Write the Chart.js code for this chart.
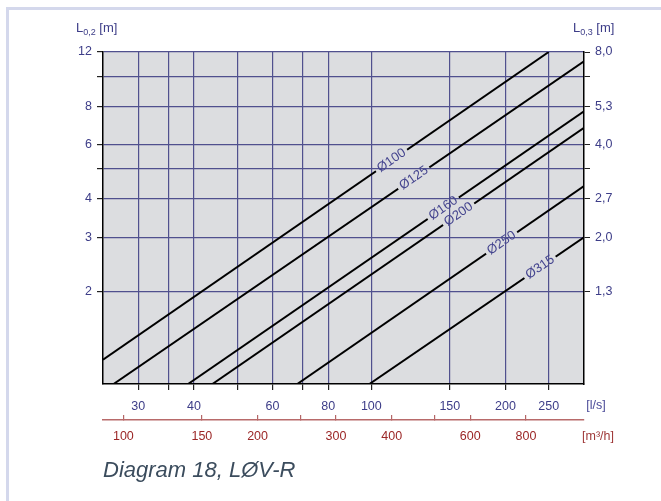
<!DOCTYPE html>
<html>
<head>
<meta charset="utf-8">
<script src="https://cdn.jsdelivr.net/npm/chart.js@4.4.1/dist/chart.umd.min.js"></script>
<style>
  html, body { margin: 0; padding: 0; background: #fff; }
  #wrap { position: relative; width: 661px; height: 501px; overflow: hidden; font-family: "Liberation Sans", Arial, sans-serif; }
  #frame { position: absolute; left: 6px; top: 7px; width: 700px; height: 600px; border-top: 3px solid #d4d8ec; border-left: 3px solid #d4d8ec; }
  #chartBox { position: absolute; left: 0; top: 0; width: 661px; height: 501px; }
  .ytitle { position: absolute; top: 20px; font-size: 13px; color: #3d3d88; white-space: nowrap; }
  .ytitle sub { font-size: 9px; vertical-align: -3px; }
  #caption { position: absolute; left: 103px; top: 459px; font-size: 22px; line-height: 22px; font-style: italic; color: #3b4c5d; white-space: nowrap; }
</style>
</head>
<body>
<div id="wrap">
  <div id="frame"></div>
  <div id="chartBox"><canvas id="myChart"></canvas></div>
  <div class="ytitle" style="left:76px">L<sub>0,2</sub> [m]</div>
  <div class="ytitle" style="left:573px">L<sub>0,3</sub> [m]</div>
  <div id="caption">Diagram 18, LØV-R</div>
</div>
<script>
// air flow [l/s] axis
const flowTicks = [30, 35, 40, 50, 60, 70, 80, 100, 150, 200, 250];
const flowLabels = ["30", "", "40", "", "60", "", "80", "100", "150", "200", "250"];
// air flow [m3/h] axis
const m3hTicks = [100, 150, 200, 250, 300, 400, 500, 600, 800];
const m3hLabels = ["100", "150", "200", "", "300", "400", "", "600", "800"];
// throw length axes
const lenTicks = [2, 3, 4, 5, 6, 8, 10, 12];
const lenLabelsLeft = ["2", "3", "4", "", "6", "8", "", "12"];
const lenLabelsRight = ["1,3", "2,0", "2,7", "", "4,0", "5,3", "", "8,0"];

// one straight line per duct size (start / end)
const sizes = ["Ø100", "Ø125", "Ø160", "Ø200", "Ø250", "Ø315"];
const flowStart = [25, 26.4, 38.8, 44, 68.2, 99];
const flowEnd = [250, 300, 300, 300, 300, 300];
const lenStart = [1.2, 1, 1, 1, 1, 1];
const lenEnd = [12, 11.2, 7.7, 6.8, 4.4, 3.0];
const labelFlow = [111, 124.5, 145, 157, 196, 239];

const plotBg = "#dcdde0";
const gridBlue = "#50508e";
const tickBlue = "#3d3d88";
const red = "#9b2626";
const font = { family: '"Liberation Sans", Arial, sans-serif', size: 12.5 };

function labelBoxes(chart) {
  const xs = chart.scales.x;
  const ys = chart.scales.y;
  const ctx = chart.ctx;
  ctx.save();
  ctx.font = '13px "Liberation Sans", Arial, sans-serif';
  const out = sizes.map(function (name, i) {
    const x0 = xs.getPixelForValue(flowStart[i]);
    const y0 = ys.getPixelForValue(lenStart[i]);
    const x1 = xs.getPixelForValue(flowEnd[i]);
    const y1 = ys.getPixelForValue(lenEnd[i]);
    const px = xs.getPixelForValue(labelFlow[i]);
    const t = (px - x0) / (x1 - x0);
    const py = y0 + t * (y1 - y0);
    const ang = Math.atan2(y1 - y0, x1 - x0);
    const w = ctx.measureText(name).width;
    return { name: name, x: px, y: py, ang: ang, w: w };
  });
  ctx.restore();
  return out;
}

const areaBg = {
  id: "areaBg",
  beforeDraw(chart) {
    const a = chart.chartArea;
    const ctx = chart.ctx;
    ctx.save();
    ctx.fillStyle = plotBg;
    ctx.fillRect(a.left, a.top, a.width, a.height);
    ctx.restore();
  }
};

// cut a gap into each line where its label sits, then write the label
const lineLabels = {
  id: "lineLabels",
  beforeDatasetsDraw(chart) {
    const ctx = chart.ctx;
    const boxes = labelBoxes(chart);
    ctx.save();
    ctx.beginPath();
    ctx.rect(0, 0, chart.width, chart.height);
    boxes.forEach(function (b) {
      const hw = b.w / 2 + 3, hh = 6;
      const c = Math.cos(b.ang), s = Math.sin(b.ang);
      const pts = [[-hw, -hh], [hw, -hh], [hw, hh], [-hw, hh]].map(function (p) {
        return [b.x + p[0] * c - p[1] * s, b.y + p[0] * s + p[1] * c];
      });
      ctx.moveTo(pts[0][0], pts[0][1]);
      for (let k = 1; k < 4; k++) ctx.lineTo(pts[k][0], pts[k][1]);
      ctx.closePath();
    });
    ctx.clip("evenodd");
  },
  afterDatasetsDraw(chart) {
    const ctx = chart.ctx;
    ctx.restore();
    const boxes = labelBoxes(chart);
    boxes.forEach(function (b) {
      ctx.save();
      ctx.translate(b.x, b.y);
      ctx.rotate(b.ang);
      ctx.font = '13px "Liberation Sans", Arial, sans-serif';
      ctx.fillStyle = "#45458f";
      ctx.textAlign = "center";
      ctx.textBaseline = "middle";
      ctx.fillText(b.name, 0, 0);
      ctx.restore();
    });
  }
};

const unitLabels = {
  id: "unitLabels",
  afterDraw(chart) {
    const ctx = chart.ctx;
    const a = chart.chartArea;
    ctx.save();
    ctx.font = '12.5px "Liberation Sans", Arial, sans-serif';
    ctx.textAlign = "center";
    ctx.textBaseline = "middle";
    ctx.fillStyle = "#4a4a98";
    ctx.fillText("[l/s]", a.right + 12, chart.scales.x.top + 22);
    ctx.fillStyle = "#a03a3a";
    ctx.fillText("[m³/h]", a.right + 14, chart.scales.x2.top + 17);
    ctx.restore();
  }
};

function createChart() {
  const datasets = sizes.map(function (name, i) {
    return {
      label: name,
      data: [
        { x: flowStart[i], y: lenStart[i] },
        { x: flowEnd[i], y: lenEnd[i] }
      ],
      showLine: true,
      borderColor: "#000",
      borderWidth: 2,
      pointRadius: 0,
      xAxisID: "x",
      yAxisID: "y"
    };
  });

  new Chart(document.getElementById("myChart"), {
    type: "scatter",
    data: { datasets: datasets },
    plugins: [areaBg, lineLabels, unitLabels],
    options: {
      responsive: true,
      maintainAspectRatio: false,
      animation: false,
      layout: { padding: { top: 52, left: 0, right: 0, bottom: 51 } },
      plugins: { legend: { display: false }, tooltip: { enabled: false } },
      scales: {
        x: {
          type: "logarithmic",
          position: "bottom",
          weight: 0,
          min: 25,
          max: 300,
          afterBuildTicks: function (s) { s.ticks = flowTicks.map(v => ({ value: v })); },
          afterFit: function (s) { s.height = 36; },
          ticks: {
            autoSkip: false, maxRotation: 0, padding: 9.5, color: tickBlue, font: font,
            callback: function (v, i) { return flowLabels[i]; }
          },
          grid: { color: gridBlue, lineWidth: 1.2, tickColor: "#222", tickLength: 6 },
          border: { color: "#000", width: 1.5 }
        },
        x2: {
          type: "logarithmic",
          position: "bottom",
          weight: 1,
          min: 25,
          max: 300,
          afterBuildTicks: function (s) { s.ticks = m3hTicks.map(v => ({ value: v / 3.6 })); },
          afterFit: function (s) { s.height = 30; },
          ticks: {
            autoSkip: false, maxRotation: 0, padding: 14, color: red, font: font,
            callback: function (v, i) { return m3hLabels[i]; }
          },
          grid: { drawOnChartArea: false, color: "#b46666", tickColor: "#b46666", tickLength: -5, lineWidth: 1.2 },
          border: { color: "#b86a6a", width: 1.5 }
        },
        y: {
          type: "logarithmic",
          position: "left",
          min: 1,
          max: 12,
          afterBuildTicks: function (s) { s.ticks = lenTicks.map(v => ({ value: v })); },
          afterFit: function (s) { s.width = 103; },
          ticks: {
            autoSkip: false, padding: 5, color: tickBlue, font: font,
            callback: function (v, i) { return lenLabelsLeft[i]; }
          },
          grid: { color: gridBlue, lineWidth: 1.2, tickColor: "#222", tickLength: 6 },
          border: { color: "#000", width: 1.5 }
        },
        y2: {
          type: "logarithmic",
          position: "right",
          min: 1,
          max: 12,
          afterBuildTicks: function (s) { s.ticks = lenTicks.map(v => ({ value: v })); },
          afterFit: function (s) { s.width = 77; },
          ticks: {
            autoSkip: false, padding: 5, color: tickBlue, font: font,
            callback: function (v, i) { return lenLabelsRight[i]; }
          },
          grid: { drawOnChartArea: false, tickColor: "#222", tickLength: 6 },
          border: { color: "#000", width: 1.5 }
        }
      }
    }
  });
}

createChart();
</script>
</body>
</html>
